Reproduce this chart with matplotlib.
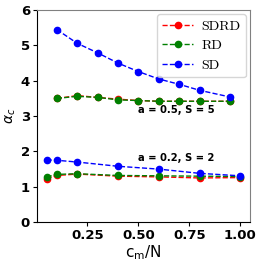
import matplotlib
matplotlib.use("Agg")
import matplotlib.pyplot as plt

plt.rcParams['mathtext.fontset'] = 'dejavusans'

x_hi = [0.1, 0.2, 0.3, 0.4, 0.5, 0.6, 0.7, 0.8, 0.95]
sdrd_hi = [3.50, 3.58, 3.53, 3.48, 3.44, 3.42, 3.42, 3.42, 3.42]
rd_hi = [3.50, 3.56, 3.53, 3.46, 3.44, 3.42, 3.42, 3.42, 3.42]
sd_hi = [5.45, 5.06, 4.79, 4.50, 4.26, 4.05, 3.90, 3.73, 3.54]

x_lo = [0.05, 0.1, 0.2, 0.4, 0.6, 0.8, 1.0]
sdrd_lo = [1.23, 1.32, 1.36, 1.30, 1.28, 1.25, 1.26]
rd_lo = [1.28, 1.35, 1.37, 1.32, 1.31, 1.30, 1.29]
sd_lo = [1.76, 1.75, 1.70, 1.58, 1.50, 1.38, 1.31]

xticks = [0.25, 0.50, 0.75, 1.00]
yticks = [0, 1, 2, 3, 4, 5, 6]

fig = plt.figure(figsize=(2.6, 2.66), dpi=100)
ax = fig.add_axes([0.142, 0.165, 0.820, 0.797])

kw = dict(linestyle='--', marker='o', markersize=4.5, linewidth=1.0)
ax.plot(x_hi, sdrd_hi, color='red', label='SDRD', **kw)
ax.plot(x_hi, rd_hi, color='green', label='RD', **kw)
ax.plot(x_hi, sd_hi, color='blue', label='SD', **kw)
ax.plot(x_lo, sdrd_lo, color='red', **kw)
ax.plot(x_lo, rd_lo, color='green', **kw)
ax.plot(x_lo, sd_lo, color='blue', **kw)

ax.set_ylim(0, 6)
ax.set_xticks(xticks)
ax.set_xticklabels(['0.25', '0.50', '0.75', '1.00'], fontweight='bold', fontsize=9.5)
ax.set_yticks(yticks)
ax.set_yticklabels([str(v) for v in yticks], fontweight='bold', fontsize=9.5)
ax.tick_params(length=3, width=0.8, pad=2)

ax.set_xlabel(r'$\mathregular{c_m/N}$', fontsize=11, labelpad=1)
ax.set_ylabel(r'$\alpha_c$', fontsize=10, labelpad=2)

ax.text(0.684, 3.17, 'a = 0.5, S = 5', ha='center', va='center', fontsize=7.2, fontweight='bold')
ax.text(0.684, 1.81, 'a = 0.2, S = 2', ha='center', va='center', fontsize=7.2, fontweight='bold')

for s in ['top', 'right']:
    ax.spines[s].set_color('0.5')
leg = ax.legend(loc='upper right', prop={'family': 'cmr10', 'size': 10}, handlelength=2.2,
                borderaxespad=0.3, labelspacing=0.5, handletextpad=0.6)

fig.savefig('out.png', dpi=100)
